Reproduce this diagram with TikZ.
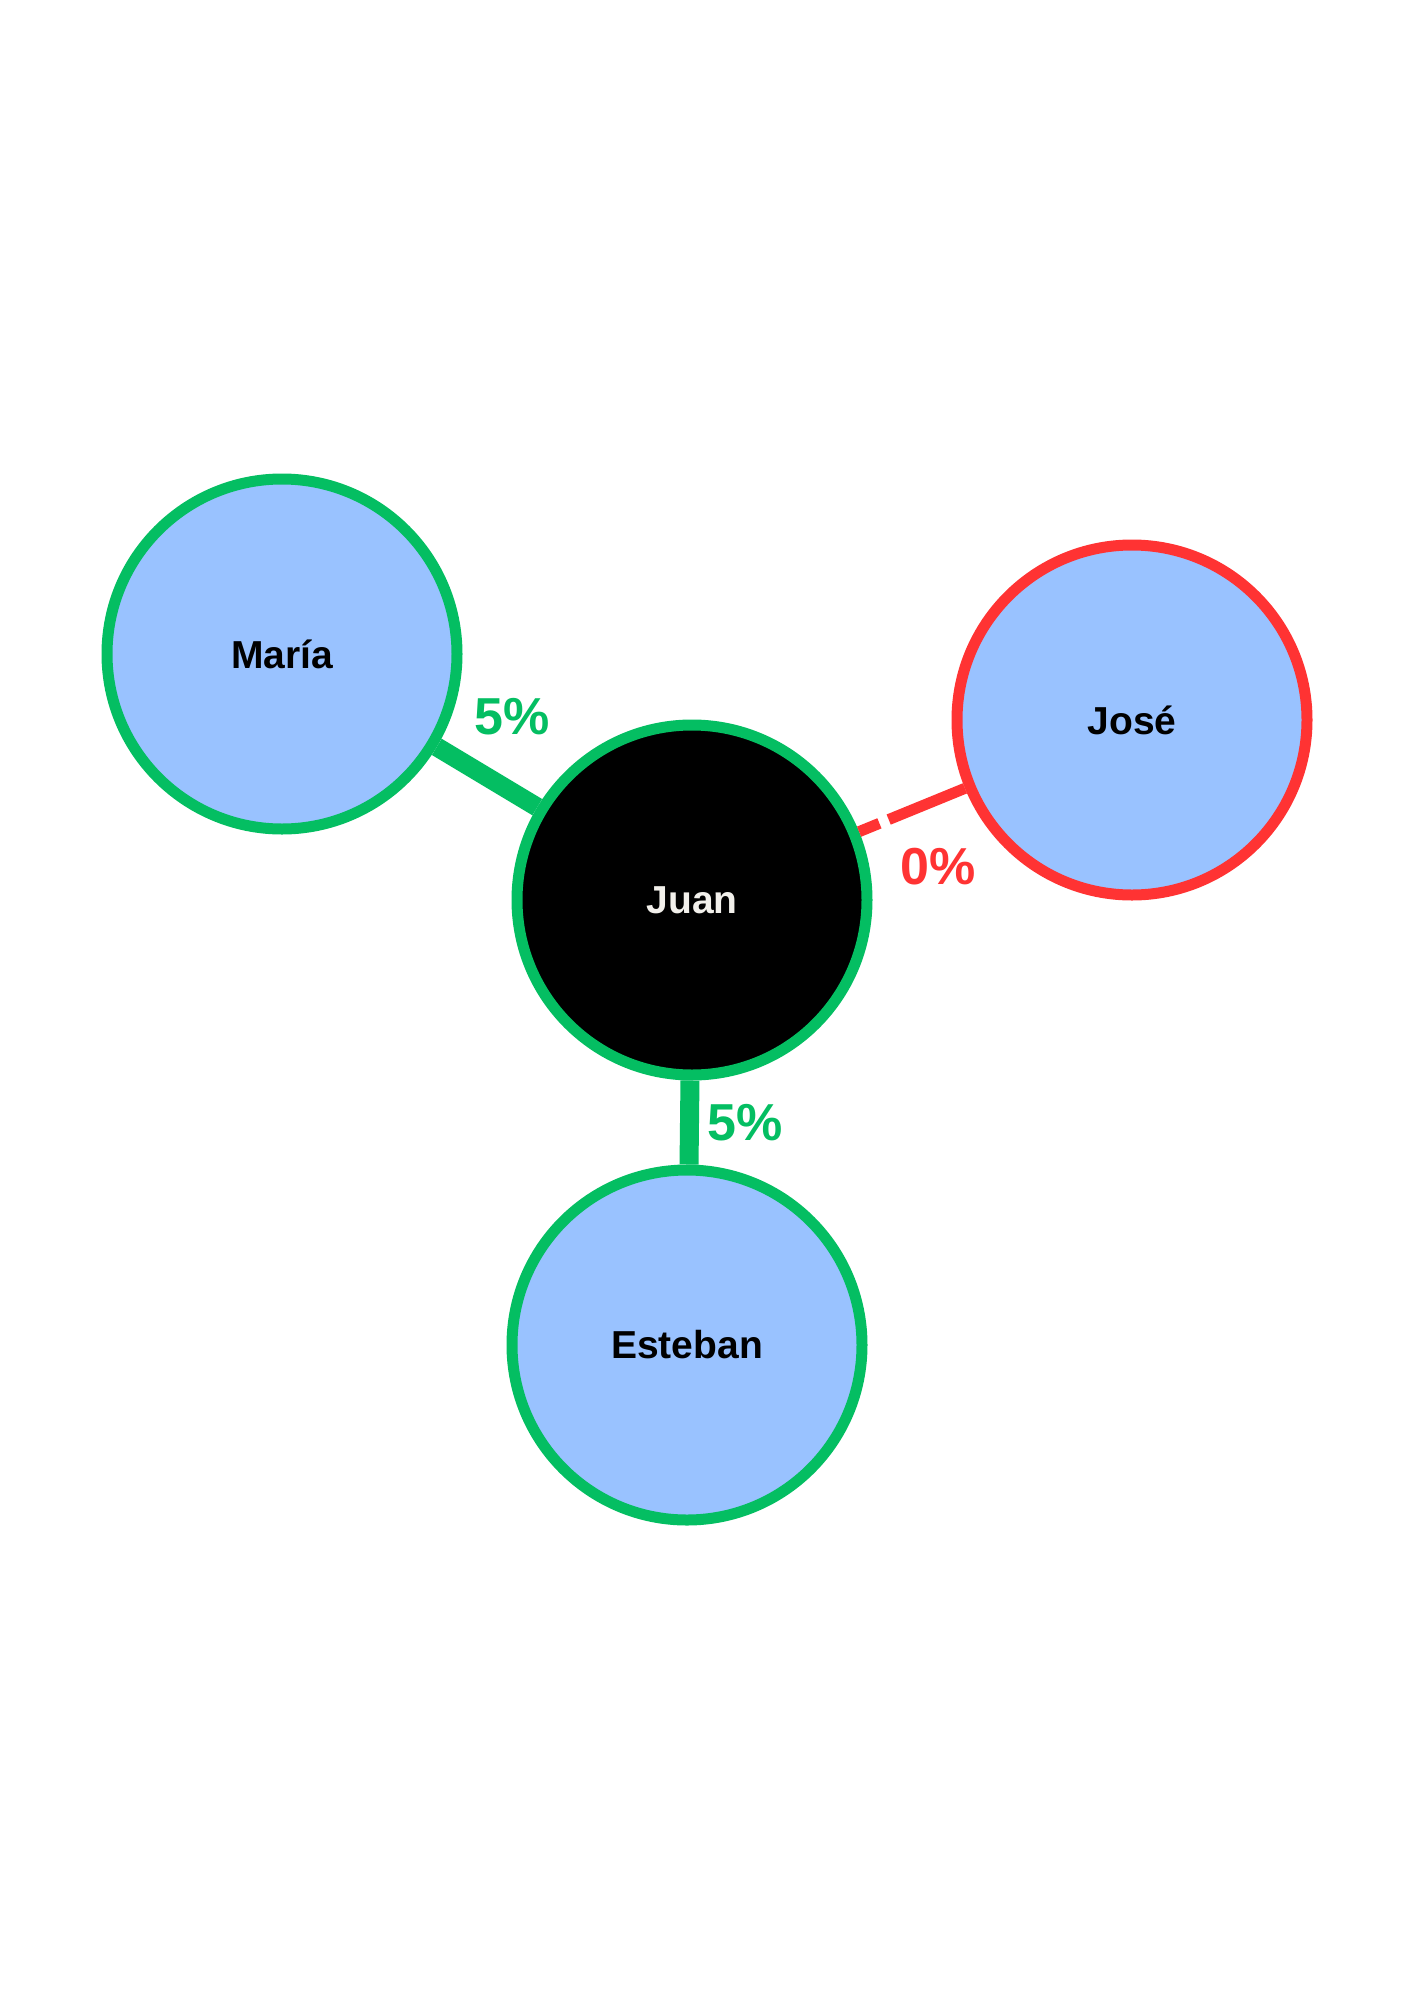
\documentclass[tikz,border=0pt]{standalone}
\usepackage{fontspec}
\setmainfont{Liberation Sans}
\usepackage{xcolor}
\usepackage{tikz}

\definecolor{linkgreen}{RGB}{4,190,98}
\definecolor{linkred}{RGB}{255,51,51}
\definecolor{personblue}{RGB}{153,194,255}
\definecolor{paleink}{RGB}{242,240,235}

\begin{document}
\begin{tikzpicture}[x=1pt,y=-1pt,
    person/.style={circle,minimum size=350pt,inner sep=0pt,line width=11pt,
      fill=personblue,text=black,font=\fontsize{39}{39}\selectfont\bfseries},
    pct/.style={inner sep=0pt,font=\fontsize{52}{52}\selectfont\bfseries}]
  \useasboundingbox (0,0) rectangle (1414,1999);

  \node[person,draw=linkgreen] (maria) at (282,654) {María};
  \node[person,draw=linkgreen,fill=black,text=paleink] (juan) at (692,900) {Juan};
  \node[person,draw=linkred] (jose) at (1132,720) {José};
  \node[person,draw=linkgreen] (esteban) at (687,1345) {Esteban};

  \draw[linkgreen,line width=19pt] (juan) -- (maria);
  \draw[linkgreen,line width=19pt] (juan) -- (esteban);
  \draw[linkred,line width=11pt,dash pattern=on 22pt off 10pt on 400pt off 10pt] (juan) -- (jose);

  \node[pct,text=linkgreen] (pmaria) at (512,717) {5\%};
  \node[pct,text=linkred] (pjose) at (938,867) {0\%};
  \node[pct,text=linkgreen] (pesteban) at (745,1123) {5\%};
\end{tikzpicture}
\end{document}
